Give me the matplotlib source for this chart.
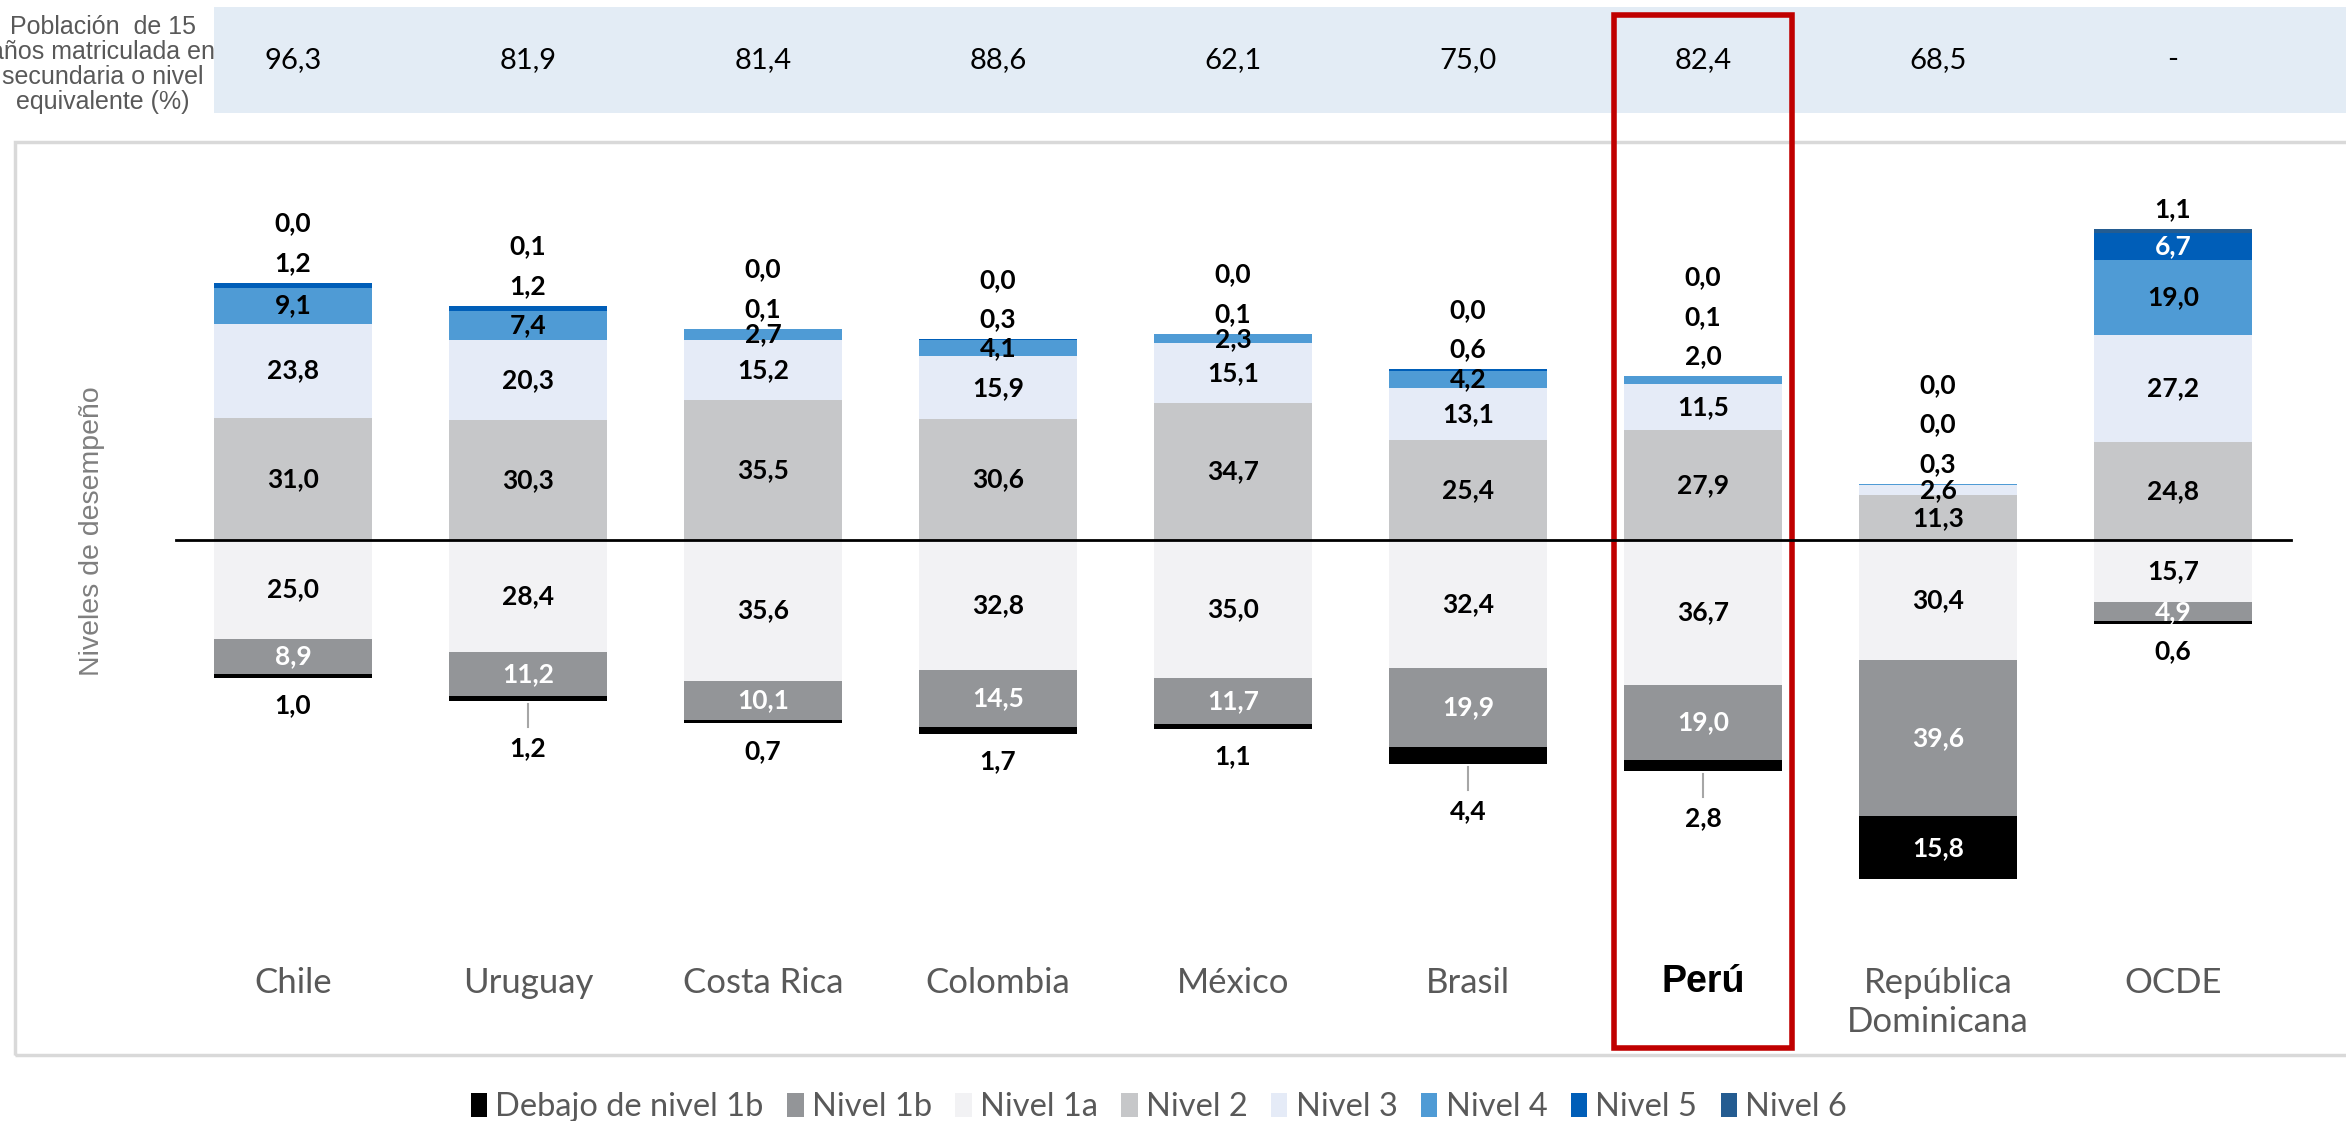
import matplotlib
matplotlib.use('Agg')
from matplotlib import pyplot as plt
from matplotlib.patches import Rectangle, Patch

paises = ['Chile', 'Uruguay', 'Costa Rica', 'Colombia', 'México', 'Brasil',
          'Perú', 'República\nDominicana', 'OCDE']
matricula = ['96,3', '81,9', '81,4', '88,6', '62,1', '75,0', '82,4', '68,5', '-']

# niveles por debajo de 2 (se dibujan hacia abajo)
debajo_1b = [1.0, 1.2, 0.7, 1.7, 1.1, 4.4, 2.8, 15.8, 0.6]
nivel_1b = [8.9, 11.2, 10.1, 14.5, 11.7, 19.9, 19.0, 39.6, 4.9]
nivel_1a = [25.0, 28.4, 35.6, 32.8, 35.0, 32.4, 36.7, 30.4, 15.7]
# nivel 2 y superiores (hacia arriba)
nivel_2 = [31.0, 30.3, 35.5, 30.6, 34.7, 25.4, 27.9, 11.3, 24.8]
nivel_3 = [23.8, 20.3, 15.2, 15.9, 15.1, 13.1, 11.5, 2.6, 27.2]
nivel_4 = [9.1, 7.4, 2.7, 4.1, 2.3, 4.2, 2.0, 0.3, 19.0]
nivel_5 = [1.2, 1.2, 0.1, 0.3, 0.1, 0.6, 0.1, 0.0, 6.7]
nivel_6 = [0.0, 0.1, 0.0, 0.0, 0.0, 0.0, 0.0, 0.0, 1.1]

c_deb = '#000000'
c_1b = '#939598'
c_1a = '#F2F2F4'
c_2 = '#C6C7C9'
c_3 = '#E5EBF7'
c_4 = '#4F9BD5'
c_5 = '#005EB8'
c_6 = '#245C91'
gris = '#595959'
con_guia = ['Uruguay', 'Brasil', 'Perú']

def fmt(v):
    return ('%.1f' % v).replace('.', ',')

fig = plt.figure(figsize=(23.46, 11.21), dpi=100)
ax = fig.add_axes([0, 0, 1, 1])
ax.set_xlim(-1.247, 8.736)
ax.set_ylim(-147.1, 136.7)
ax.axis('off')

# franja superior y marco del panel
ax.add_patch(Rectangle((-0.336, 108.1), 10, 26.8, facecolor='#E3ECF5', edgecolor='none'))
ax.add_patch(Rectangle((-1.183, -130.4), 10.2, 231.2, facecolor='none',
                       edgecolor='#D9D9D9', lw=2.5))
ax.text(-0.81, 120.3, 'Población  de 15\naños matriculada en\nsecundaria o nivel\nequivalente (%)',
        ha='center', va='center', fontsize=18, color=gris, family='Liberation Sans',
        linespacing=1.05)
ax.text(-0.855, 2.3, 'Niveles de desempeño', rotation=90, ha='center', va='center',
        fontsize=20.5, color='#7F7F7F', family='Liberation Sans')

w = 0.67
x = list(range(len(paises)))
lab_kw = dict(ha='center', va='center', fontsize=19, fontweight='bold', family='Lato')

for i in x:
    ax.text(i, 121.6, matricula[i], ha='center', va='center', fontsize=21,
            family='Lato', color='black')

    # hacia arriba
    base = 0
    fuera = []
    for vals, col, tc in [(nivel_2, c_2, 'black'), (nivel_3, c_3, 'black'),
                          (nivel_4, c_4, 'black'), (nivel_5, c_5, 'white'),
                          (nivel_6, c_6, 'white')]:
        v = vals[i]
        ax.bar(i, v, w, bottom=base, color=col, lw=0)
        if v >= 2.2:
            ax.text(i, base + v / 2, fmt(v), color=tc, **lab_kw)
        else:
            fuera.append(v)
        base += v
    for k, v in enumerate(fuera):
        ax.text(i, base + 5 + 10 * k, fmt(v), color='black', **lab_kw)

    # hacia abajo
    base = 0
    for vals, col, tc in [(nivel_1a, c_1a, 'black'), (nivel_1b, c_1b, 'white'),
                          (debajo_1b, c_deb, 'white')]:
        v = vals[i]
        ax.bar(i, -v, w, bottom=-base, color=col, lw=0)
        if v >= 4.5:
            ax.text(i, -base - v / 2, fmt(v), color=tc, **lab_kw)
        else:
            fondo = base + v
            if paises[i] in con_guia:
                ax.plot([i, i], [-fondo - 0.8, -fondo - 6.5], color='#A6A6A6', lw=1.5)
                ax.text(i, -fondo - 12, fmt(v), color='black', **lab_kw)
            else:
                ax.text(i, -fondo - 7, fmt(v), color='black', **lab_kw)
        base += v

    if paises[i] == 'Perú':
        ax.text(i, -112, paises[i], ha='center', va='center', fontsize=27,
                fontweight='bold', family='Liberation Sans', color='black')
    else:
        ax.text(i, -108, paises[i], ha='center', va='top', fontsize=25,
                family='Lato', color=gris, linespacing=1.3)

ax.plot([-0.5, 8.5], [0, 0], color='black', lw=2)

# recuadro de Perú
ax.add_patch(Rectangle((6 - 0.377, -128.6), 0.754, 261.5, facecolor='none',
                       edgecolor='#C00000', lw=4))

nombres = ['Debajo de nivel 1b', 'Nivel 1b', 'Nivel 1a', 'Nivel 2', 'Nivel 3',
           'Nivel 4', 'Nivel 5', 'Nivel 6']
colores = [c_deb, c_1b, c_1a, c_2, c_3, c_4, c_5, c_6]
handles = [Patch(facecolor=c, edgecolor='none') for c in colores]
leg = fig.legend(handles, nombres, loc='center', bbox_to_anchor=(0.494, 0.0125),
                 ncol=8, frameon=False, handlelength=0.5, handleheight=0.75,
                 handletextpad=0.25, columnspacing=0.72,
                 prop={'family': 'Lato', 'size': 23.5})
for t in leg.get_texts():
    t.set_color(gris)

fig.savefig('out.png', dpi=100)
